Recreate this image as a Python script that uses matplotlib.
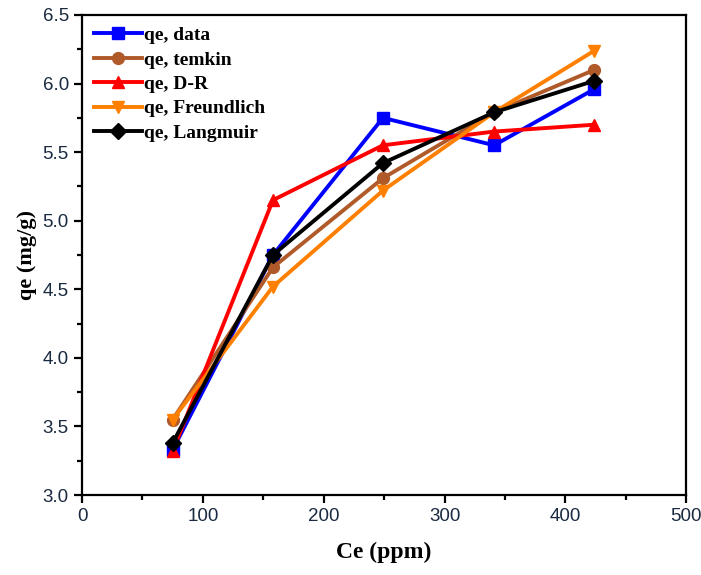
import matplotlib.pyplot as plt
from matplotlib.ticker import MultipleLocator

# concentration at equilibrium (ppm)
ce = [75, 158, 249, 341, 424]

# adsorbed amount, measured and fitted (mg/g)
qe_data = [3.33, 4.75, 5.75, 5.55, 5.96]
qe_temkin = [3.55, 4.66, 5.31, 5.79, 6.10]
qe_dr = [3.32, 5.15, 5.55, 5.65, 5.70]
qe_freundlich = [3.55, 4.52, 5.22, 5.79, 6.24]
qe_langmuir = [3.38, 4.75, 5.42, 5.79, 6.02]

series = [
    (qe_data, 'qe, data', '#0000ff', 's'),
    (qe_temkin, 'qe, temkin', '#b05a2a', 'o'),
    (qe_dr, 'qe, D-R', '#ff0000', '^'),
    (qe_freundlich, 'qe, Freundlich', '#ff8000', 'v'),
    (qe_langmuir, 'qe, Langmuir', '#000000', 'D'),
]

fig = plt.figure(figsize=(7.01, 5.75), dpi=100)
ax = fig.add_axes([0.117, 0.139, 0.862, 0.835])

for vals, lab, col, mk in series:
    ax.plot(ce, vals, color=col, marker=mk, markersize=8.5, linewidth=2.8,
            label=lab)

ax.set_xlim(0, 500)
ax.set_ylim(3.0, 6.5)
ax.xaxis.set_major_locator(MultipleLocator(100))
ax.xaxis.set_minor_locator(MultipleLocator(50))
ax.yaxis.set_major_locator(MultipleLocator(0.5))
ax.yaxis.set_minor_locator(MultipleLocator(0.25))
ax.yaxis.set_major_formatter(plt.FormatStrFormatter('%.1f'))

for sp in ax.spines.values():
    sp.set_linewidth(1.6)
ax.tick_params(which='major', direction='out', length=6, width=1.6,
               labelsize=13.5, colors='black', labelcolor='#1a2a40')
ax.tick_params(which='minor', direction='out', length=3.5, width=1.6)
for lbl in ax.get_xticklabels() + ax.get_yticklabels():
    lbl.set_family('Liberation Sans')

ax.set_xlabel('Ce (ppm)', fontsize=17, fontweight='bold',
              family='Liberation Serif', labelpad=12)
ax.set_ylabel('qe (mg/g)', fontsize=16, fontweight='bold',
              family='Liberation Serif', labelpad=4)

ax.legend(loc='upper left', frameon=False, handlelength=2.5,
          handletextpad=0.1, borderaxespad=0.2, labelspacing=0.35,
          prop={'family': 'Liberation Serif', 'weight': 'bold', 'size': 14})

fig.savefig('out.png', dpi=100)
